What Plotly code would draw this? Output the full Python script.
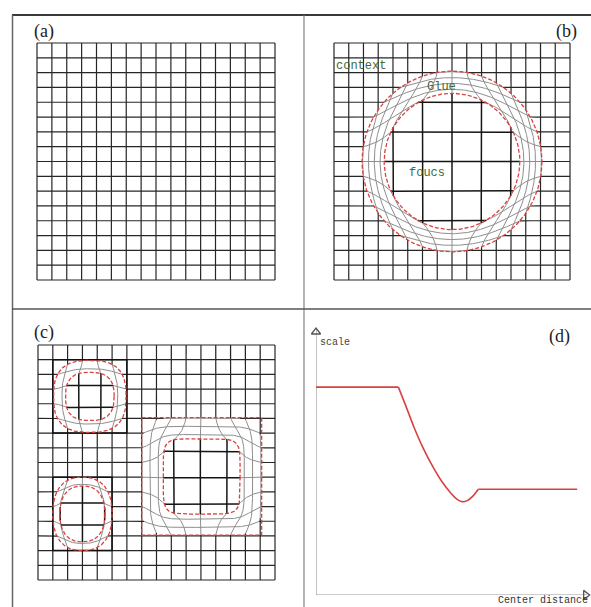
import numpy as np
import plotly.graph_objects as go

W, H = 591, 607

# ---------------- data ----------------
N_CELLS = 16                      # grid is 16 x 16 cells

# fisheye lenses: centre (grid units), half sizes, superellipse exponent,
# focus magnification, inner (focus) boundary as a fraction of the outer one
LENS_B = [dict(cx=8.0, cy=8.0, ax=6.1, ay=6.1, p=2.0, mag=2.0, inner=0.754)]
LENS_C = [
    dict(cx=3.5, cy=3.5, ax=2.45, ay=2.45, p=2.7, mag=1.5, inner=0.67),
    dict(cx=3.0, cy=11.5, ax=2.0, ay=2.5, p=2.4, mag=1.5, inner=0.76),
    dict(cx=11.05, cy=8.95, ax=4.05, ay=4.0, p=6.0, mag=1.8, inner=0.64),
]
# dark frames drawn around the two small lenses in (c): x0, x1, y0, y1
FRAMES_C = [(1, 6, 1, 6), (1, 5, 9, 14)]
# the big lens in (c) has a rectangular outer boundary
RECT_OUTER_C = [2]

# scale vs. centre distance profile (d)
distance = [0.0, 3.04, 3.30, 3.62, 3.95, 4.30, 4.65, 4.98, 5.22, 5.40, 5.58, 5.78, 5.99, 9.64]
scale = [7.84, 7.84, 7.17, 6.32, 5.55, 4.86, 4.27, 3.84, 3.60, 3.52, 3.56, 3.72, 3.99, 3.99]

PANEL_LABELS = ["(a)", "(b)", "(c)", "(d)"]

# ---------------- helpers ----------------
DARK = "#262626"
GLUE = "#8e8e8e"
RED = "#d9413f"
GREEN = "#3f6b37"


def lens_point(x, y, lenses):
    for ln in lenses:
        u = (x - ln["cx"]) / ln["ax"]
        v = (y - ln["cy"]) / ln["ay"]
        d = (abs(u) ** ln["p"] + abs(v) ** ln["p"]) ** (1.0 / ln["p"])
        if d >= 1.0:
            continue
        d0 = ln["inner"] / ln["mag"]
        if d < d0:
            s, reg = ln["mag"], "focus"
        else:
            g = ln["inner"] + (d - d0) * (1.0 - ln["inner"]) / (1.0 - d0)
            s, reg = g / d, "glue"
        return ln["cx"] + u * ln["ax"] * s, ln["cy"] + v * ln["ay"] * s, reg
    return x, y, "context"


def grid_traces(lenses, xa, ya):
    segs = {"context": ([], []), "focus": ([], []), "glue": ([], [])}
    t = np.linspace(0, N_CELLS, 481)
    lines = []
    for k in range(N_CELLS + 1):
        lines.append([(k, tt) for tt in t])
        lines.append([(tt, k) for tt in t])
    for line in lines:
        pts = [lens_point(x, y, lenses) for x, y in line]
        cur = None
        prev = None
        for px, py, reg in pts:
            if reg != cur:
                if cur is not None:
                    segs[cur][0].append(px)
                    segs[cur][1].append(py)
                    segs[cur][0].append(None)
                    segs[cur][1].append(None)
                    segs[reg][0].append(prev[0])
                    segs[reg][1].append(prev[1])
                cur = reg
            segs[reg][0].append(px)
            segs[reg][1].append(py)
            prev = (px, py)
        segs[cur][0].append(None)
        segs[cur][1].append(None)
    style = {"context": (DARK, 1.2), "focus": ("#151515", 1.5), "glue": (GLUE, 1.0)}
    out = []
    for reg in ["glue", "context", "focus"]:
        xs, ys = segs[reg]
        if not xs:
            continue
        c, w = style[reg]
        out.append(go.Scatter(x=xs, y=ys, mode="lines", line=dict(color=c, width=w),
                              hoverinfo="skip", showlegend=False, xaxis=xa, yaxis=ya))
    return out


def superellipse(ln, r):
    th = np.linspace(0, 2 * np.pi, 241)
    c, s = np.cos(th), np.sin(th)
    e = 2.0 / ln["p"]
    u = np.sign(c) * np.abs(c) ** e
    v = np.sign(s) * np.abs(s) ** e
    return ln["cx"] + r * ln["ax"] * u, ln["cy"] + r * ln["ay"] * v


def dashed(xs, ys, xa, ya):
    return go.Scatter(x=list(xs), y=list(ys), mode="lines",
                      line=dict(color=RED, width=1.3, dash="4px,2px"),
                      hoverinfo="skip", showlegend=False, xaxis=xa, yaxis=ya)


def grid_axes(px0, px1, py0, py1, pad=0.3):
    ux = (px1 - px0) / N_CELLS
    uy = (py1 - py0) / N_CELLS
    xd = [(px0 - pad * ux) / W, (px1 + pad * ux) / W]
    yd = [1 - (py1 + pad * uy) / H, 1 - (py0 - pad * uy) / H]
    xa = dict(domain=xd, range=[-pad, N_CELLS + pad], visible=False, fixedrange=True)
    ya = dict(domain=yd, range=[N_CELLS + pad, -pad], visible=False, fixedrange=True)
    return xa, ya


fig = go.Figure()

# (a) plain grid
for tr in grid_traces([], "x", "y"):
    fig.add_trace(tr)

# (b) one circular lens
for tr in grid_traces(LENS_B, "x2", "y2"):
    fig.add_trace(tr)
for ln in LENS_B:
    for r in (ln["inner"], 1.0):
        fig.add_trace(dashed(*superellipse(ln, r), "x2", "y2"))

# (c) three lenses
for tr in grid_traces(LENS_C, "x3", "y3"):
    fig.add_trace(tr)
for x0, x1, y0, y1 in FRAMES_C:
    fig.add_trace(go.Scatter(x=[x0, x1, x1, x0, x0], y=[y0, y0, y1, y1, y0], mode="lines",
                             line=dict(color="#111111", width=1.5), hoverinfo="skip",
                             showlegend=False, xaxis="x3", yaxis="y3"))
for i, ln in enumerate(LENS_C):
    fig.add_trace(dashed(*superellipse(ln, ln["inner"]), "x3", "y3"))
    if i in RECT_OUTER_C:
        x0, x1 = ln["cx"] - ln["ax"], ln["cx"] + ln["ax"]
        y0, y1 = ln["cy"] - ln["ay"], ln["cy"] + ln["ay"]
        fig.add_trace(dashed([x0, x1, x1, x0, x0], [y0, y0, y1, y1, y0], "x3", "y3"))
    else:
        fig.add_trace(dashed(*superellipse(ln, 1.0), "x3", "y3"))

# (d) scale profile
XMAX, YMAX = 10.0, 10.07
fig.add_trace(go.Scatter(x=[0, 0, None, 0, XMAX], y=[YMAX, 0, None, 0, 0], mode="lines",
                         line=dict(color="#9a9a9a", width=1.2), hoverinfo="skip",
                         showlegend=False, xaxis="x4", yaxis="y4", cliponaxis=False))
fig.add_trace(go.Scatter(x=[0], y=[YMAX - 0.15], mode="markers", cliponaxis=False,
                         marker=dict(symbol="triangle-up-open", size=8, color="#555555",
                                     line=dict(width=1.3, color="#555555")),
                         hoverinfo="skip", showlegend=False, xaxis="x4", yaxis="y4"))
fig.add_trace(go.Scatter(x=[XMAX - 0.05], y=[0], mode="markers", cliponaxis=False,
                         marker=dict(symbol="triangle-right-open", size=8, color="#555555",
                                     line=dict(width=1.3, color="#555555")),
                         hoverinfo="skip", showlegend=False, xaxis="x4", yaxis="y4"))
n = len(distance)
for a, b, shape in [(0, 2, "linear"), (1, n - 1, "spline"), (n - 2, n, "linear")]:
    fig.add_trace(go.Scatter(x=distance[a:b], y=scale[a:b], mode="lines",
                             line=dict(color=RED, width=1.6, shape=shape, smoothing=0.8),
                             hoverinfo="skip", showlegend=False, xaxis="x4", yaxis="y4"))

xa1, ya1 = grid_axes(37, 275, 43, 280)
xa2, ya2 = grid_axes(334, 570, 43, 280)
xa3, ya3 = grid_axes(38, 275, 345, 580)
xa4 = dict(domain=[316 / W, 587 / W], range=[0, XMAX], visible=False, fixedrange=True)
ya4 = dict(domain=[1 - 595 / H, 1 - 328 / H], range=[0, YMAX], visible=False, fixedrange=True)
xa2["anchor"] = "y2"; ya2["anchor"] = "x2"
xa3["anchor"] = "y3"; ya3["anchor"] = "x3"
xa4["anchor"] = "y4"; ya4["anchor"] = "x4"

# frame lines between the four panels
frame = []
for x0, y0, x1, y1, c, w in [
    (12, 15, 591, 15, "#3a3a3a", 1.8),
    (12.5, 15, 12.5, 607, "#666666", 1.5),
    (304, 15, 304, 607, "#777777", 1.1),
    (12, 309, 591, 309, "#555555", 1.3),
]:
    frame.append(dict(type="line", xref="paper", yref="paper",
                      x0=x0 / W, x1=x1 / W, y0=1 - y0 / H, y1=1 - y1 / H,
                      line=dict(color=c, width=w)))

ann = []
for text, px, py in zip(PANEL_LABELS, [44, 566, 44, 559], [32, 31, 333, 337]):
    ann.append(dict(text=text, x=px / W, y=1 - py / H, xref="paper", yref="paper",
                    showarrow=False, xanchor="center", yanchor="middle",
                    font=dict(family="Liberation Serif", size=18, color="#222222")))
for text, px, py in [("context", 361, 66), ("Glue", 441, 87), ("foucs", 427, 173)]:
    ann.append(dict(text=text, x=px / W, y=1 - py / H, xref="paper", yref="paper",
                    showarrow=False, xanchor="center", yanchor="middle",
                    font=dict(family="Liberation Mono", size=12, color=GREEN)))
ann.append(dict(text="scale", x=335 / W, y=1 - 342 / H, xref="paper", yref="paper",
                showarrow=False, xanchor="center", yanchor="middle",
                font=dict(family="Liberation Mono", size=10, color="#444444")))
ann.append(dict(text="Center distance", x=543 / W, y=1 - 600 / H, xref="paper", yref="paper",
                showarrow=False, xanchor="center", yanchor="middle",
                font=dict(family="Liberation Mono", size=10, color="#333333")))

fig.update_layout(
    width=W, height=H, margin=dict(l=0, r=0, t=0, b=0),
    paper_bgcolor="white", plot_bgcolor="white",
    xaxis=xa1, yaxis=ya1, xaxis2=xa2, yaxis2=ya2,
    xaxis3=xa3, yaxis3=ya3, xaxis4=xa4, yaxis4=ya4,
    shapes=frame, annotations=ann, showlegend=False,
)

fig.write_html("out.html")
